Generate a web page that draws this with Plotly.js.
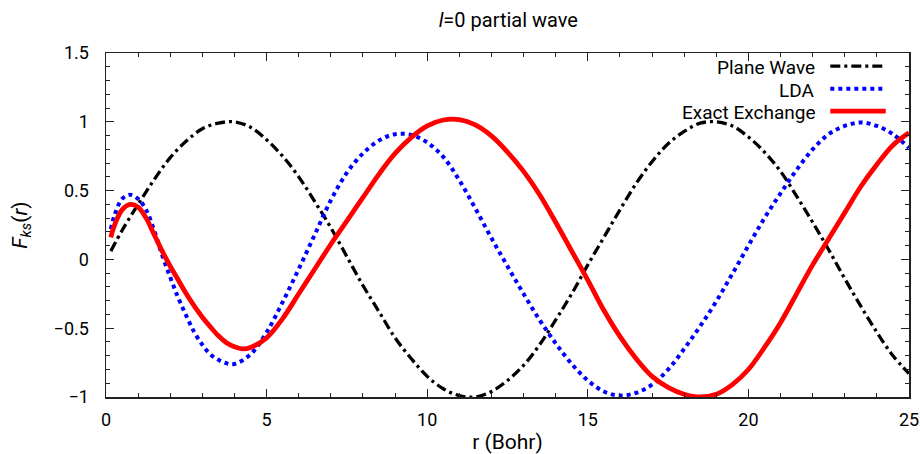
<!DOCTYPE html>
<html>
<head>
<meta charset="utf-8">
<script src="https://cdn.plot.ly/plotly-3.0.1.min.js"></script>
<style>html,body{margin:0;padding:0;background:#fff;}#chart{width:920px;height:454px;}</style>
</head>
<body>
<div id="chart"></div>
<script>
// ---- data ----
const seriesNames = ["Plane Wave", "LDA", "Exact Exchange"];

const rPlane = [0.15, 0.5, 1, 1.5, 2, 2.5, 3, 3.5, 4, 4.5, 5, 5.5, 6, 6.5, 7, 7.5, 8, 8.5, 9, 9.5, 10, 10.5, 11, 11.5, 12, 12.5, 13, 13.5, 14, 14.5, 15, 15.5, 16, 16.5, 17, 17.5, 18, 18.5, 19, 19.5, 20, 20.5, 21, 21.5, 22, 22.5, 23, 23.5, 24, 24.5, 25];
const fPlane = [0.06, 0.21, 0.40, 0.58, 0.74, 0.86, 0.95, 0.99, 1.00, 0.96, 0.87, 0.75, 0.60, 0.42, 0.23, 0.02, -0.19, -0.38, -0.57, -0.72, -0.85, -0.94, -0.99, -1.00, -0.96, -0.88, -0.77, -0.62, -0.44, -0.25, -0.04, 0.16, 0.36, 0.55, 0.71, 0.84, 0.93, 0.99, 1.00, 0.97, 0.89, 0.78, 0.64, 0.46, 0.27, 0.07, -0.14, -0.34, -0.53, -0.70, -0.83];

const rLDA = [0.15, 0.25, 0.5, 0.75, 1, 1.25, 1.5, 1.75, 2, 2.25, 2.5, 2.75, 3, 3.25, 3.5, 3.75, 4, 4.5, 5, 5.5, 6, 6.5, 7, 7.5, 8, 8.5, 9, 9.5, 10, 10.5, 11, 11.5, 12, 12.5, 13, 13.5, 14, 14.5, 15, 15.5, 16, 16.5, 17, 17.5, 18, 18.5, 19, 19.5, 20, 20.5, 21, 21.5, 22, 22.5, 23, 23.5, 24, 24.5, 25];
const fLDA = [0.22, 0.31, 0.44, 0.47, 0.44, 0.36, 0.21, 0.03, -0.13, -0.28, -0.41, -0.53, -0.62, -0.69, -0.73, -0.755, -0.76, -0.69, -0.53, -0.31, -0.07, 0.18, 0.43, 0.63, 0.77, 0.865, 0.91, 0.905, 0.85, 0.745, 0.575, 0.37, 0.155, -0.05, -0.25, -0.44, -0.61, -0.76, -0.88, -0.96, -0.99, -0.97, -0.91, -0.80, -0.65, -0.485, -0.305, -0.105, 0.10, 0.30, 0.48, 0.65, 0.80, 0.91, 0.97, 0.995, 0.97, 0.91, 0.81];

const rEXX = [0.15, 0.25, 0.5, 0.75, 1, 1.25, 1.5, 1.75, 2, 2.25, 2.5, 2.75, 3, 3.25, 3.5, 3.75, 4, 4.25, 4.5, 5, 5.5, 6, 6.5, 7, 7.5, 8, 8.5, 9, 9.5, 10, 10.5, 11, 11.5, 12, 12.5, 13, 13.5, 14, 14.5, 15, 15.5, 16, 16.5, 17, 17.5, 18, 18.5, 19, 19.5, 20, 20.5, 21, 21.5, 22, 22.5, 23, 23.5, 24, 24.5, 25];
const fEXX = [0.16, 0.24, 0.36, 0.40, 0.38, 0.30, 0.18, 0.06, -0.05, -0.15, -0.25, -0.34, -0.42, -0.49, -0.555, -0.605, -0.635, -0.65, -0.64, -0.57, -0.43, -0.25, -0.07, 0.11, 0.28, 0.45, 0.62, 0.77, 0.885, 0.97, 1.013, 1.016, 0.977, 0.897, 0.78, 0.64, 0.47, 0.27, 0.06, -0.15, -0.37, -0.56, -0.72, -0.85, -0.93, -0.98, -1.00, -0.98, -0.91, -0.80, -0.64, -0.46, -0.25, -0.04, 0.15, 0.34, 0.53, 0.69, 0.83, 0.92];

const xTickVals = [0, 5, 10, 15, 20, 25];
const yTickVals = [-1, -0.5, 0, 0.5, 1, 1.5];

// ---- styles ----
const FONT = "Roboto, 'Liberation Sans', Arial, sans-serif";
const styles = [
  {color: "#000000", width: 3.3, dash: "10px,4px,3px,4px"},
  {color: "#0000ff", width: 4, dash: "4px,4px"},
  {color: "#ff0000", width: 4.8, dash: "solid"}
];
const xs = [rPlane, rLDA, rEXX];
const ys = [fPlane, fLDA, fEXX];

const traces = xs.map((x, i) => ({
  x: x, y: ys[i], type: "scatter", mode: "lines", name: seriesNames[i],
  line: {color: styles[i].color, width: styles[i].width, dash: styles[i].dash, shape: "spline", smoothing: 1},
  showlegend: false, hoverinfo: "skip"
}));

// manual legend: text on the left, line sample on the right (as in the original)
const legY = [0.958, 0.892, 0.827];
const annotations = seriesNames.map((n, i) => ({
  xref: "paper", yref: "paper", x: 0.884, y: legY[i], xanchor: "right", yanchor: "middle",
  text: n, showarrow: false, borderpad: 0, font: {family: FONT, size: 19, color: "#000"}
}));
const shapes = seriesNames.map((n, i) => ({
  type: "line", xref: "paper", yref: "paper", x0: 0.902, x1: 0.971, y0: legY[i] + 0.004, y1: legY[i] + 0.004,
  line: {color: styles[i].color, width: styles[i].width, dash: styles[i].dash}
}));

const axisCommon = {
  showline: true, linecolor: "#222", linewidth: 1.5, mirror: "allticks",
  ticks: "inside", ticklen: 8, tickwidth: 1, tickcolor: "#222",
  showgrid: false, zeroline: false,
  tickfont: {family: FONT, size: 18, color: "#000"},
  minor: {ticks: "inside", ticklen: 4, tickwidth: 1, tickcolor: "#222", showgrid: false}
};

const layout = {
  width: 920, height: 454,
  margin: {l: 106, r: 11, t: 53, b: 57},
  paper_bgcolor: "#fff", plot_bgcolor: "#fff",
  showlegend: false,
  title: {text: "<i>l</i>=0 partial wave", font: {family: FONT, size: 20, color: "#000"},
          x: 0.5525, xanchor: "center", y: 0.955, yanchor: "middle"},
  xaxis: Object.assign({}, axisCommon, {
    range: [0, 25], tickvals: xTickVals, ticktext: xTickVals.map(String),
    minor: Object.assign({}, axisCommon.minor, {dtick: 1, tick0: 0}),
    ticklabelstandoff: 6,
    title: {text: "r (Bohr)", font: {family: FONT, size: 21, color: "#000"}, standoff: 28}
  }),
  yaxis: Object.assign({}, axisCommon, {
    range: [-1, 1.5], tickvals: yTickVals, ticktext: yTickVals.map(v => v < 0 ? "\u2212" + Math.abs(v) : String(v)),
    minor: Object.assign({}, axisCommon.minor, {dtick: 0.1, tick0: 0}),
    ticklabelstandoff: 12,
    title: {text: "<i>F</i><sub><i>ks</i></sub>(<i>r</i>)", font: {family: FONT, size: 21, color: "#000"}, standoff: 20}
  }),
  annotations: annotations,
  shapes: shapes
};

Plotly.newPlot("chart", traces, layout, {staticPlot: true, displayModeBar: false});
</script>
</body>
</html>
